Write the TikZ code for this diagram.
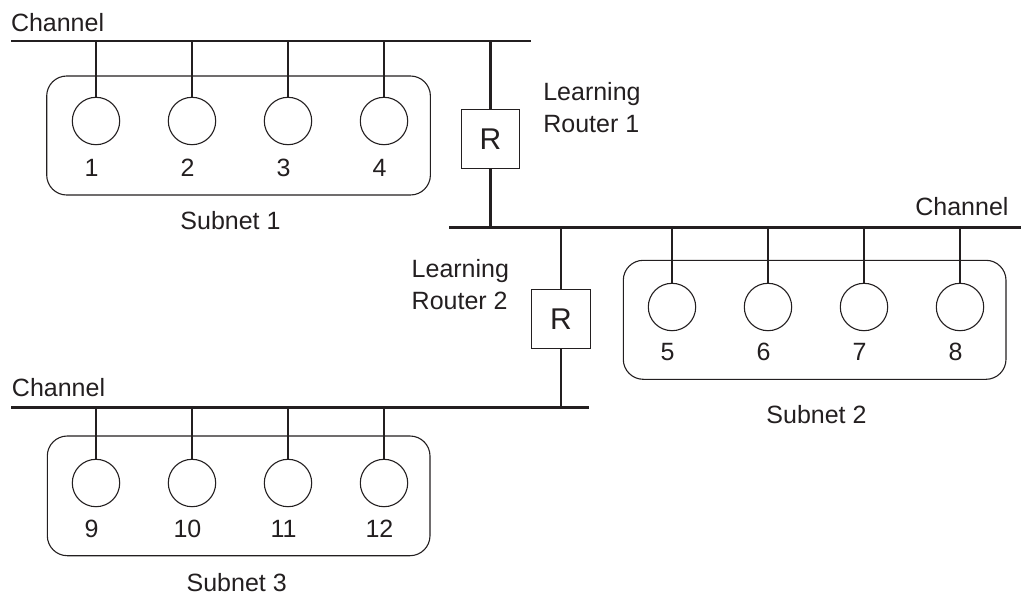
\documentclass[tikz,border=0pt]{standalone}
\usepackage{fontspec}
\setmainfont{Liberation Sans}
\definecolor{ink}{RGB}{35,31,32}
\begin{document}
\begin{tikzpicture}[x=1pt,y=-1pt,
  every node/.style={inner sep=0pt, outer sep=0pt, text=ink},
  txt/.style={font=\fontsize{25}{31.7}\selectfont},
  bus/.style={draw=ink, line width=2.6pt},
  drop/.style={draw=ink, line width=2.1pt},
  station/.style={circle, draw=ink, line width=1.1pt, minimum size=47.4pt},
  subnetbox/.style={draw=ink, line width=1.1pt, rounded corners=20pt, minimum height=119pt},
  routerbox/.style={draw=ink, line width=1.1pt, minimum width=58.8pt, minimum height=58.7pt,
     font=\fontsize{30}{36}\selectfont},
  num/.style={txt, anchor=base}]
\useasboundingbox (0,0) rectangle (1021,595);

% subnet boxes
\node[subnetbox, minimum width=383.7pt] (s1) at (238.55,135.5) {};
\node[subnetbox, minimum width=382.7pt] (s2) at (814.65,319.8) {};
\node[subnetbox, minimum width=382.7pt, minimum height=119.7pt] (s3) at (238.65,495.85) {};

% channels
\coordinate (b1w) at (11,41);   \coordinate (b1e) at (530.7,41);
\coordinate (b2w) at (449,227.3); \coordinate (b2e) at (1021,227.3);
\coordinate (b3w) at (11,407.3); \coordinate (b3e) at (589.3,407.3);
\draw[bus] (b1w) -- (b1e);
\draw[bus] (b2w) -- (b2e);
\draw[bus] (b3w) -- (b3e);
\node[txt, anchor=base west] (c1) at (11,31) {Channel};
\node[txt, anchor=base east] (c2) at (1008.5,215) {Channel};
\node[txt, anchor=base west] (c3) at (12,396.7) {Channel};

% stations subnet 1
\foreach \i/\x in {1/96,2/192,3/288,4/384}{
  \node[station] (n\i) at (\x,121) {};
  \node[num] (l\i) at (\x-4.5,176) {\i};
  \draw[drop] (n\i.north) -- (n\i.north |- b1w);
}
% stations subnet 2
\foreach \i/\x in {5/672,6/768,7/864,8/960}{
  \node[station] (n\i) at (\x,307) {};
  \node[num] (l\i) at (\x-4.5,360) {\i};
  \draw[drop] (n\i.north) -- (n\i.north |- b2w);
}
% stations subnet 3
\foreach \i/\x in {9/96,10/192,11/288,12/384}{
  \node[station] (n\i) at (\x,483) {};
  \node[num] (l\i) at (\x-4.5,537.3) {\i};
  \draw[drop] (n\i.north) -- (n\i.north |- b3w);
}

% subnet labels
\node[num] (t1) at (230.5,229) {Subnet 1};
\node[num] (t2) at (816.5,423.3) {Subnet 2};
\node[num] (t3) at (236.7,591.5) {Subnet 3};

% routers
\node[routerbox] (r1) at (490.5,138.7) {R};
\node[routerbox] (r2) at (561,319) {R};
\draw[drop] (r1.north) -- (r1.north |- b1w);
\draw[drop] (r1.south) -- (r1.south |- b2w);
\draw[drop] (r2.north) -- (r2.north |- b2w);
\draw[drop] (r2.south) -- (r2.south |- b3w);
\node[txt, align=left, anchor=base west] (lr1) at (543.3,132.3) {Learning\\Router 1};
\node[txt, align=left, anchor=base west] (lr2) at (411.7,309) {Learning\\Router 2};
\end{tikzpicture}
\end{document}
